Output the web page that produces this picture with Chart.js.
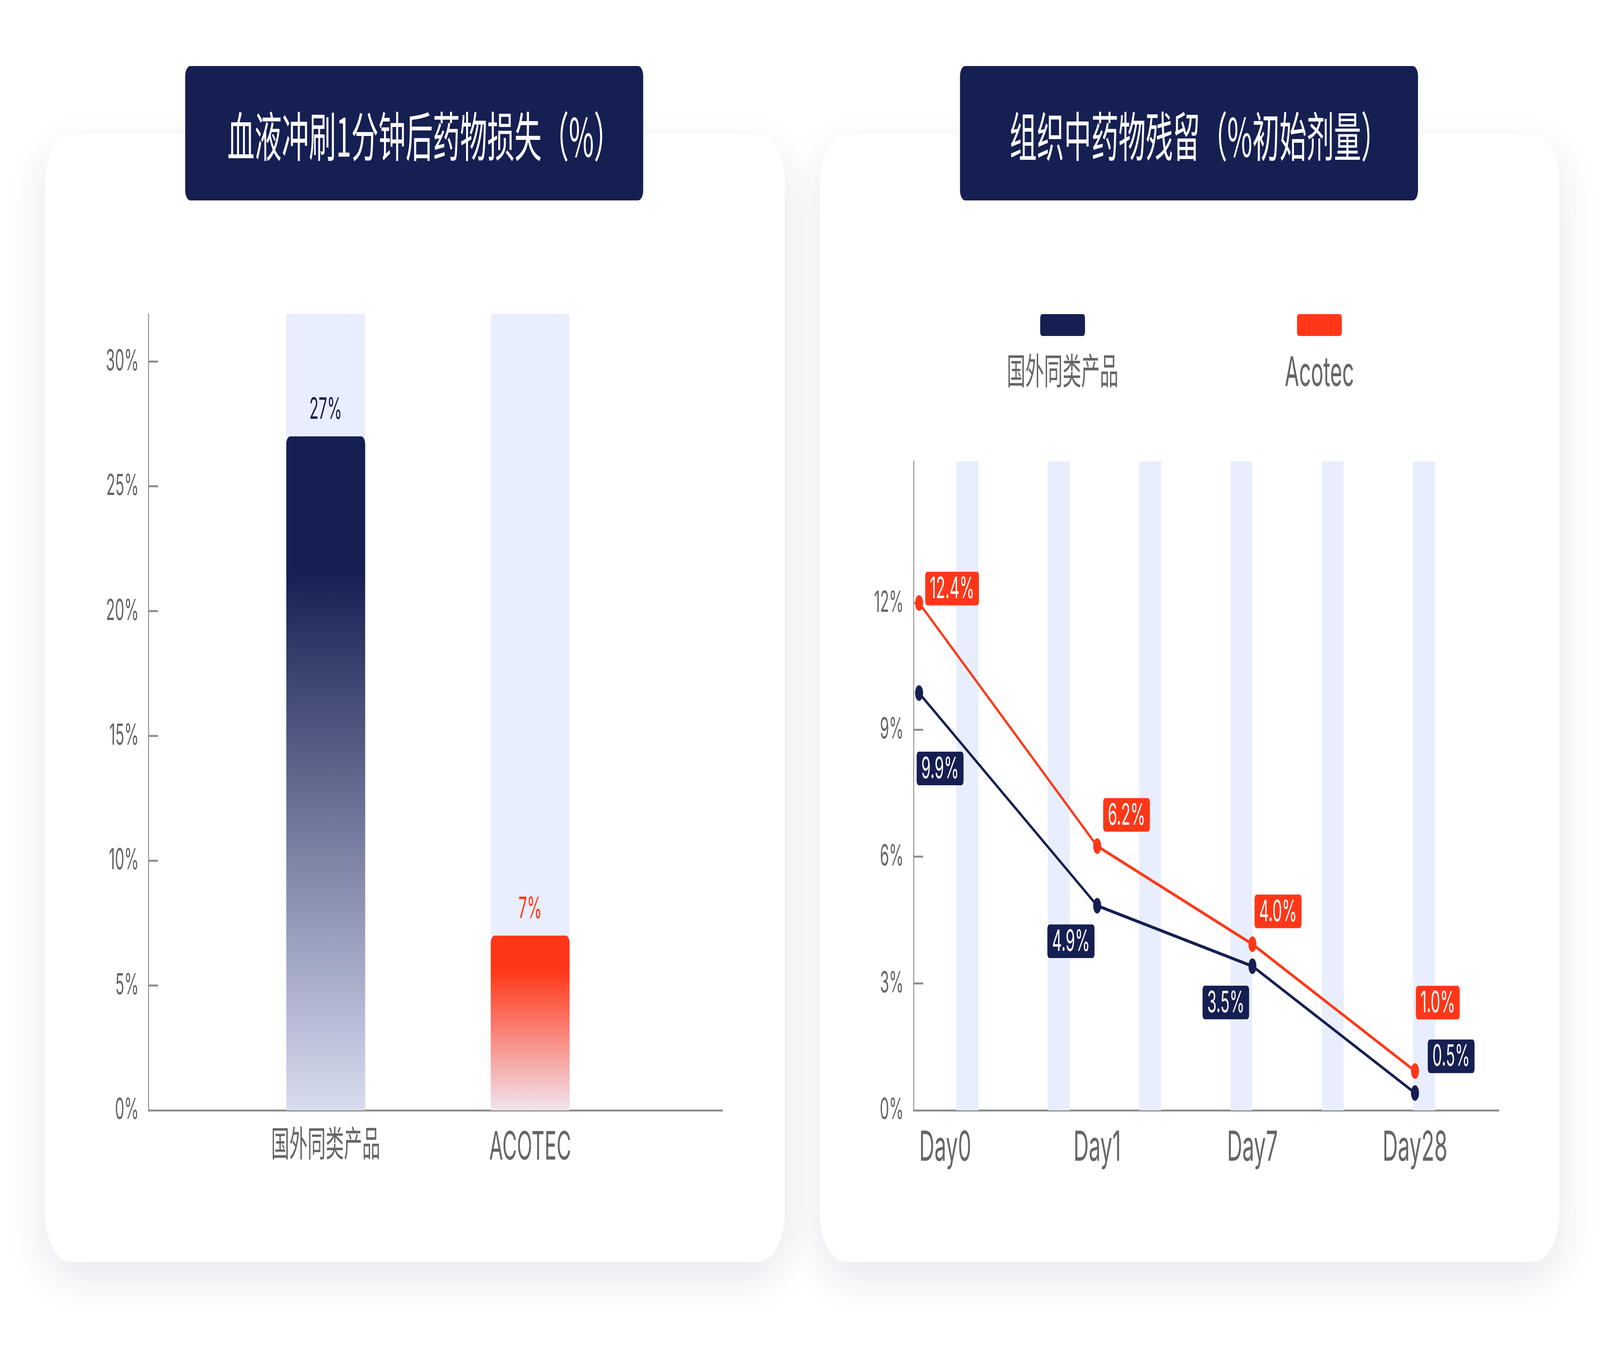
<!DOCTYPE html>
<html lang="zh-CN">
<head>
<meta charset="utf-8">
<title>药物损失与组织残留</title>
<script src="https://cdn.jsdelivr.net/npm/chart.js@4.4.1/dist/chart.umd.min.js"></script>
<style>
  html, body { margin: 0; padding: 0; background: #fff; width: 100%; height: 100%; overflow: hidden; }
  body { font-family: Inter, "Noto Sans CJK SC", sans-serif; }
  /* design board is 8000 x 3499, scaled to whatever window we get */
  #stage { position: absolute; left: 0; top: 0; width: 8000px; height: 3499px; transform-origin: 0 0; }
  .card { position: absolute; top: 343px; width: 3700px; height: 2887px; background: #fff;
          border-radius: 130px; box-shadow: 0 40px 150px rgba(30, 40, 100, 0.11); }
  .title { position: absolute; top: 169px; width: 2290px; height: 344px; z-index: 2; box-sizing: border-box;
           padding-left: 100px; background: #161f52; border-radius: 26px; color: #fff;
           font-family: "Noto Sans CJK SC", sans-serif; font-size: 136px;
           display: flex; align-items: center; justify-content: center; }
  .plot { position: absolute; z-index: 1; }
  .legend-item { position: absolute; top: 804px; width: 700px; margin-left: -350px; z-index: 1;
                 text-align: center; color: #666; }
  .legend-item i { display: block; width: 224px; height: 56px; margin: 0 auto; border-radius: 10px; }
  .legend-item span { display: block; margin-top: 38px; line-height: 1; font-size: 104px; }
  .legend-item span.cjk { font-size: 93px; margin-top: 44px; }
</style>
</head>
<body>
<div id="stage">
  <div class="card" style="left:224px"></div>
  <div class="card" style="left:4098px"></div>
  <div class="title" style="left:926px">血液冲刷1分钟后药物损失（%）</div>
  <div class="title" style="left:4800px">组织中药物残留（%初始剂量）</div>
  <div class="plot" style="left:400px;top:700px;width:3400px;height:2400px"><canvas id="lossChart"></canvas></div>
  <div class="plot" style="left:4200px;top:1000px;width:3500px;height:2300px"><canvas id="residueChart"></canvas></div>
  <div id="residueLegend"></div>
</div>

<script>
// left chart: drug loss after 1 min blood flush
var productNames = ['国外同类产品', 'ACOTEC'];
var productSlots = [1, 2];
var lossValues = [27, 7];
var lossLabels = ['27%', '7%'];
var lossTicks = [0, 5, 10, 15, 20, 25, 30];
var lossMax = 31.9;

// right chart: drug residue in tissue
var dayNames = ['Day0', 'Day1', 'Day7', 'Day28'];
var daySlots = [0.06, 2.01, 3.71, 5.49];
var seriesNames = ['国外同类产品', 'Acotec'];
var rivalResidue = [9.87, 4.84, 3.41, 0.41];
var acotecResidue = [12.0, 6.25, 3.93, 0.93];
var rivalLabels = ['9.9%', '4.9%', '3.5%', '0.5%'];
var acotecLabels = ['12.4%', '6.2%', '4.0%', '1.0%'];
var residueTicks = [0, 3, 6, 9, 12];
var residueMax = 15.35;
var stripeSlots = [0.71, 1.71, 2.71, 3.71, 4.71, 5.71];

var navy = '#161f52';
var red = '#ff3718';
var band = '#e8eefd';
var axisGray = '#8c8c8c';
var labelGray = '#666666';
var cjk = /[\u4e00-\u9fff]/;

// big-screen style fit: stretch the 8000x3499 board onto the window
function fitStage() {
  var s = document.getElementById('stage');
  s.style.transform = 'scale(' + (window.innerWidth / 8000) + ',' + (window.innerHeight / 3499) + ')';
}
fitStage();
window.addEventListener('resize', fitStage);

Chart.defaults.font.family = "Inter, 'Noto Sans CJK SC', sans-serif";
Chart.defaults.color = labelGray;

// short tick marks drawn inside the plot, off the y axis
var innerTicks = {
  id: 'innerTicks',
  beforeDatasetsDraw: function(chart) {
    var y = chart.scales.y, area = chart.chartArea, c = chart.ctx;
    c.save();
    c.strokeStyle = axisGray;
    c.lineWidth = 5;
    y.ticks.forEach(function(t) {
      if (t.value === 0) return;
      var py = y.getPixelForValue(t.value);
      c.beginPath();
      c.moveTo(area.left, py);
      c.lineTo(area.left + 48, py);
      c.stroke();
    });
    c.restore();
  }
};

function tickList(values) {
  return function(scale) {
    scale.ticks = values.map(function(v) { return { value: v }; });
  };
}

// ---------- left bar chart ----------
var barTop = [navy, red];
var barBottom = ['#d8ddf0', '#f1e4ee'];

function barFill(ctx) {
  var i = ctx.dataIndex;
  var chart = ctx.chart;
  if (!chart.chartArea || !ctx.raw) return barTop[i];
  var ys = chart.scales.y;
  var top = ys.getPixelForValue(ctx.raw.y);
  var base = ys.getPixelForValue(0);
  var g = chart.ctx.createLinearGradient(0, top, 0, base);
  g.addColorStop(0, barTop[i]);
  g.addColorStop(0.2, barTop[i]);
  g.addColorStop(1, barBottom[i]);
  return g;
}

var barValueLabels = {
  id: 'barValueLabels',
  afterDatasetsDraw: function(chart) {
    var c = chart.ctx;
    var meta = chart.getDatasetMeta(0);
    c.save();
    c.font = '76px ' + Chart.defaults.font.family;
    c.textAlign = 'center';
    c.textBaseline = 'middle';
    meta.data.forEach(function(bar, i) {
      c.fillStyle = barTop[i];
      c.fillText(lossLabels[i], bar.x, bar.y - 68);
    });
    c.restore();
  }
};

new Chart(document.getElementById('lossChart'), {
  type: 'bar',
  data: {
    datasets: [{
      label: '损失',
      data: productSlots.map(function(x, i) { return { x: x, y: lossValues[i] }; }),
      backgroundColor: barFill,
      borderRadius: { topLeft: 20, topRight: 20, bottomLeft: 0, bottomRight: 0 },
      borderSkipped: false,
      barPercentage: 1,
      categoryPercentage: 0.386,
      grouped: false,
      order: 0
    }, {
      label: 'track',
      data: productSlots.map(function(x) { return { x: x, y: lossMax }; }),
      backgroundColor: band,
      barPercentage: 1,
      categoryPercentage: 0.386,
      grouped: false,
      order: 1
    }]
  },
  options: {
    responsive: true,
    maintainAspectRatio: false,
    animation: false,
    devicePixelRatio: 1,
    layout: { padding: { left: 0, top: 104, right: 188, bottom: 0 } },
    plugins: { legend: { display: false }, tooltip: { enabled: false } },
    scales: {
      x: {
        type: 'linear', min: 0.133, max: 2.94, offset: false,
        afterBuildTicks: tickList(productSlots),
        afterFit: function(s) { s.height = 258; },
        grid: { display: false, drawTicks: false },
        border: { display: true, color: axisGray, width: 5 },
        ticks: {
          autoSkip: false, maxRotation: 0, padding: 36, color: labelGray,
          font: function(ctx) { return { size: cjk.test(productNames[ctx.index] || '') ? 91 : 100 }; },
          callback: function(v, i) { return productNames[i]; }
        }
      },
      y: {
        min: 0, max: lossMax,
        afterBuildTicks: tickList(lossTicks),
        afterFit: function(s) { s.width = 342; },
        grid: { display: false, drawTicks: false },
        border: { display: true, color: axisGray, width: 5 },
        ticks: {
          padding: 48, color: labelGray, font: { size: 74 },
          callback: function(v) { return v + '%'; }
        }
      }
    }
  },
  plugins: [innerTicks, barValueLabels]
});

// ---------- right line chart ----------
var seriesColors = [navy, red];
var seriesLabels = [rivalLabels, acotecLabels];
// label box centre relative to its point
var labelShift = [
  [[105, 193], [-131, 91], [-133, 93], [181, -94]],
  [[165, -37], [147, -80], [128, -84], [114, -175]]
];

function roundRect(c, x, y, w, h, r) {
  c.beginPath();
  c.moveTo(x + r, y);
  c.arcTo(x + w, y, x + w, y + h, r);
  c.arcTo(x + w, y + h, x, y + h, r);
  c.arcTo(x, y + h, x, y, r);
  c.arcTo(x, y, x + w, y, r);
  c.closePath();
}

var pointBadges = {
  id: 'pointBadges',
  afterDatasetsDraw: function(chart) {
    var c = chart.ctx;
    c.save();
    c.font = '76px ' + Chart.defaults.font.family;
    c.textAlign = 'center';
    c.textBaseline = 'middle';
    [1, 2].forEach(function(di, s) {
      var meta = chart.getDatasetMeta(di);
      meta.data.forEach(function(pt, i) {
        var txt = seriesLabels[s][i];
        var w = c.measureText(txt).width + 46, h = 86;
        var cx = pt.x + labelShift[s][i][0], cy = pt.y + labelShift[s][i][1];
        c.fillStyle = seriesColors[s];
        roundRect(c, cx - w / 2, cy - h / 2, w, h, 11);
        c.fill();
        c.fillStyle = '#fff';
        c.fillText(txt, cx, cy + 2);
      });
    });
    c.restore();
  }
};

function lineSet(name, values, color, order) {
  return {
    type: 'line',
    label: name,
    data: daySlots.map(function(x, i) { return { x: x, y: values[i] }; }),
    borderColor: color,
    backgroundColor: color,
    borderWidth: 8,
    pointRadius: 20,
    pointBorderWidth: 0,
    pointBackgroundColor: color,
    tension: 0,
    clip: false,
    order: order
  };
}

var residueChart = new Chart(document.getElementById('residueChart'), {
  type: 'line',
  data: {
    datasets: [{
      type: 'bar',
      label: 'stripes',
      xAxisID: 'xs',
      data: stripeSlots.map(function(x) { return { x: x, y: residueMax }; }),
      backgroundColor: band,
      barPercentage: 1,
      categoryPercentage: 0.482,
      order: 5
    },
    lineSet(seriesNames[0], rivalResidue, navy, 1),
    lineSet(seriesNames[1], acotecResidue, red, 0)]
  },
  options: {
    responsive: true,
    maintainAspectRatio: false,
    animation: false,
    devicePixelRatio: 1,
    layout: { padding: { left: 0, top: 181, right: 205, bottom: 0 } },
    plugins: { legend: { display: false }, tooltip: { enabled: false } },
    scales: {
      x: {
        type: 'linear', min: 0, max: 6.41, offset: false,
        afterBuildTicks: tickList(daySlots.concat([6.41])),
        afterFit: function(s) { s.height = 458; },
        grid: { display: false, drawTicks: false },
        border: { display: true, color: axisGray, width: 5 },
        ticks: {
          autoSkip: false, maxRotation: 0, padding: 34, align: 'inner', color: labelGray,
          font: { size: 106 },
          callback: function(v, i) { return dayNames[i] || ''; }
        }
      },
      xs: {
        type: 'linear', min: 0, max: 6.41, offset: false, display: false,
        afterBuildTicks: tickList(stripeSlots)
      },
      y: {
        min: 0, max: residueMax,
        afterBuildTicks: tickList(residueTicks),
        afterFit: function(s) { s.width = 368; },
        grid: { display: false, drawTicks: false },
        border: { display: true, color: axisGray, width: 5 },
        ticks: {
          padding: 50, color: labelGray, font: { size: 74 },
          callback: function(v) { return v + '%'; }
        }
      }
    }
  },
  plugins: [innerTicks, pointBadges]
});

// legend: colour bar above the series name
var legendCenters = [5313, 6597];
var legendHost = document.getElementById('residueLegend');
residueChart.data.datasets.filter(function(d) { return d.type === 'line'; }).forEach(function(d, i) {
  var item = document.createElement('div');
  item.className = 'legend-item';
  item.style.left = legendCenters[i] + 'px';
  item.innerHTML = '<i style="background:' + d.borderColor + '"></i><span' +
    (cjk.test(d.label) ? ' class="cjk"' : '') + '>' + d.label + '</span>';
  legendHost.appendChild(item);
});
</script>
</body>
</html>
